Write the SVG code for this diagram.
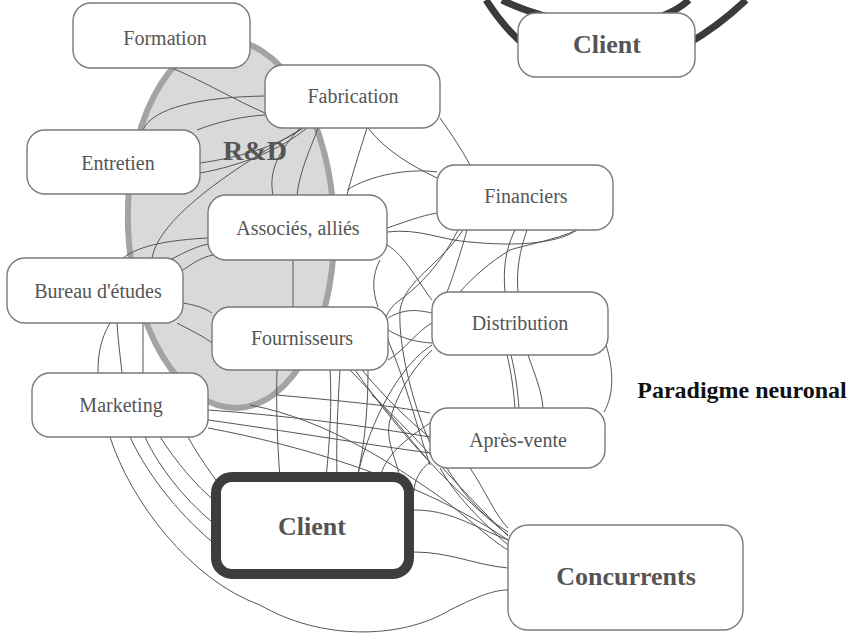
<svg xmlns="http://www.w3.org/2000/svg" width="851" height="638" viewBox="0 0 851 638">
<style>
.box{fill:#fff;stroke:#7a7a7a;stroke-width:1.4}
.lbl{font-family:"Liberation Serif","Times New Roman",serif;font-size:20px;fill:#555;text-anchor:middle}
.big{font-family:"Liberation Serif","Times New Roman",serif;font-size:26px;font-weight:bold;fill:#555;text-anchor:middle}
.conn path{fill:none;stroke:#555;stroke-width:1}
.ring{fill:none;stroke:#3a3a3a;stroke-width:7}
</style>
<rect width="851" height="638" fill="#fff"/>
<g id="rd">
<ellipse cx="231" cy="224" rx="103" ry="184" transform="rotate(-2 231 224)" fill="#d9d9d9" stroke="#a3a3a3" stroke-width="6"/>
<text x="255" y="160" style="font-family:'Liberation Serif','Times New Roman',serif;font-size:28px;font-weight:bold;fill:#555" text-anchor="middle">R&amp;D</text>
</g>
<g id="connectors" class="conn">
<path d="M172,68 C205,82 235,100 265,113"/>
<path d="M143,130 C152,108 200,97 265,96"/>
<path d="M197,130 C220,121 245,116 265,115"/>
<path d="M200,163 C235,158 275,148 303,128"/>
<path d="M200,173 C240,166 280,150 307,128"/>
<path d="M152,258 C160,215 240,165 303,128"/>
<path d="M273,195 C268,170 280,150 300,128"/>
<path d="M297,195 C300,170 310,150 318,128"/>
<path d="M293,260 L293,307"/>
<path d="M123,258 C140,245 170,240 208,238"/>
<path d="M170,260 C185,252 195,247 208,244"/>
<path d="M183,270 C195,262 200,258 213,255"/>
<path d="M183,303 C195,305 205,308 212,313"/>
<path d="M177,323 C190,330 205,337 212,343"/>
<path d="M440,118 C452,135 462,150 470,165"/>
<path d="M368,128 C385,150 410,165 437,178"/>
<path d="M367,128 C360,150 352,175 347,195"/>
<path d="M347,190 C370,175 410,168 437,172"/>
<path d="M387,228 C405,222 420,216 437,213"/>
<path d="M387,232 C420,228 440,240 470,242 C510,246 555,245 577,230"/>
<path d="M577,230 C555,240 525,245 510,250 C490,262 472,278 460,292"/>
<path d="M515,230 C505,250 503,270 505,292"/>
<path d="M527,230 C520,250 516,270 518,292"/>
<path d="M467,230 C460,255 452,280 447,292"/>
<path d="M463,230 C440,265 405,280 400,310 C398,350 415,410 430,443"/>
<path d="M458,230 C440,265 420,285 400,300 C385,310 378,330 375,370"/>
<path d="M380,260 C372,275 372,290 378,307"/>
<path d="M387,245 C405,255 420,285 432,300"/>
<path d="M388,318 C405,308 418,310 432,313"/>
<path d="M388,360 C405,350 418,330 432,323"/>
<path d="M388,330 C405,340 418,342 432,343"/>
<path d="M388,340 C405,380 418,430 430,465"/>
<path d="M432,345 C400,365 370,420 357,478"/>
<path d="M432,350 C410,370 395,400 390,420 C385,440 395,455 400,478"/>
<path d="M507,355 C512,375 514,395 515,408"/>
<path d="M511,355 C516,375 518,395 519,408"/>
<path d="M528,355 C535,375 542,392 543,408"/>
<path d="M606,345 C614,370 614,395 604,412"/>
<path d="M277,370 C276,400 277,440 280,478"/>
<path d="M340,370 C338,400 336,440 337,478"/>
<path d="M330,370 C332,400 330,440 326,478"/>
<path d="M368,370 C368,400 366,440 357,478"/>
<path d="M350,370 C380,400 410,440 430,462"/>
<path d="M355,370 C390,420 440,480 508,535"/>
<path d="M362,370 C395,410 430,440 470,468 C485,490 495,515 508,528"/>
<path d="M208,410 C280,415 360,425 430,437"/>
<path d="M208,420 C280,430 370,445 430,453"/>
<path d="M277,395 C330,400 390,405 430,413"/>
<path d="M208,428 C300,445 420,480 508,540"/>
<path d="M250,405 C330,420 400,470 430,490 C460,510 490,540 508,550"/>
<path d="M188,437 C195,450 205,465 216,480"/>
<path d="M160,437 C175,460 195,485 216,502"/>
<path d="M145,437 C160,470 190,505 216,525"/>
<path d="M130,437 C150,480 185,520 216,545"/>
<path d="M110,437 C130,500 190,580 260,605 C320,640 400,640 450,610 C480,595 495,590 508,590"/>
<path d="M110,323 C100,340 98,355 98,373"/>
<path d="M117,323 C118,340 120,355 122,373"/>
<path d="M143,323 C143,340 143,355 143,373"/>
<path d="M414,510 C450,510 470,525 508,540"/>
<path d="M414,552 C450,552 475,565 508,568"/>
<path d="M430,423 C405,440 385,455 380,478"/>
<path d="M430,462 C420,470 414,480 414,492"/>
<path d="M447,468 C460,490 480,515 508,532"/>
<path d="M440,468 C455,495 480,520 508,545"/>
<path d="M372,395 C420,440 460,490 508,536"/>
</g>
<g id="formation"><rect class="box" x="73" y="3" width="177" height="65" rx="18"/><text class="lbl" x="165" y="45">Formation</text></g>
<g id="fabrication"><rect class="box" x="265" y="65" width="175" height="63" rx="18"/><text class="lbl" x="353" y="103">Fabrication</text></g>
<g id="entretien"><rect class="box" x="27" y="130" width="173" height="64" rx="18"/><text class="lbl" x="118" y="170">Entretien</text></g>
<g id="associes"><rect class="box" x="208" y="195" width="179" height="65" rx="18"/><text class="lbl" x="298" y="235">Associés, alliés</text></g>
<g id="bureau"><rect class="box" x="7" y="258" width="176" height="65" rx="18"/><text class="lbl" x="98" y="298">Bureau d'études</text></g>
<g id="fournisseurs"><rect class="box" x="212" y="307" width="176" height="63" rx="18"/><text class="lbl" x="302" y="345">Fournisseurs</text></g>
<g id="marketing"><rect class="box" x="32" y="373" width="176" height="64" rx="18"/><text class="lbl" x="121" y="412">Marketing</text></g>
<g id="financiers"><rect class="box" x="437" y="165" width="176" height="65" rx="18"/><text class="lbl" x="526" y="203">Financiers</text></g>
<g id="distribution"><rect class="box" x="432" y="292" width="176" height="63" rx="18"/><text class="lbl" x="520" y="330">Distribution</text></g>
<g id="apres-vente"><rect class="box" x="430" y="408" width="175" height="60" rx="18"/><text class="lbl" x="518" y="447">Après-vente</text></g>
<g id="client"><rect x="216" y="477" width="193" height="97" rx="16" fill="#fff" stroke="#3d3d3d" stroke-width="10"/><text class="big" x="312" y="535">Client</text></g>
<g id="concurrents"><rect class="box" x="508" y="525" width="235" height="105" rx="20"/><text class="big" x="626" y="585">Concurrents</text></g>
<g id="client-top">
<path class="ring" d="M486,0 Q505,30 530,50"/>
<path class="ring" d="M686,45 Q720,25 746,0"/>
<path class="ring" d="M502,0 Q520,9 545,16"/>
<path class="ring" d="M662,16 Q678,10 689,0"/>
<rect class="box" x="518" y="13" width="177" height="64" rx="18"/>
<text class="big" x="607" y="53">Client</text>
</g>
<text id="paradigme" x="742" y="398" style="font-family:'Liberation Serif','Times New Roman',serif;font-size:24px;font-weight:bold;fill:#111" text-anchor="middle">Paradigme neuronal</text>
</svg>
